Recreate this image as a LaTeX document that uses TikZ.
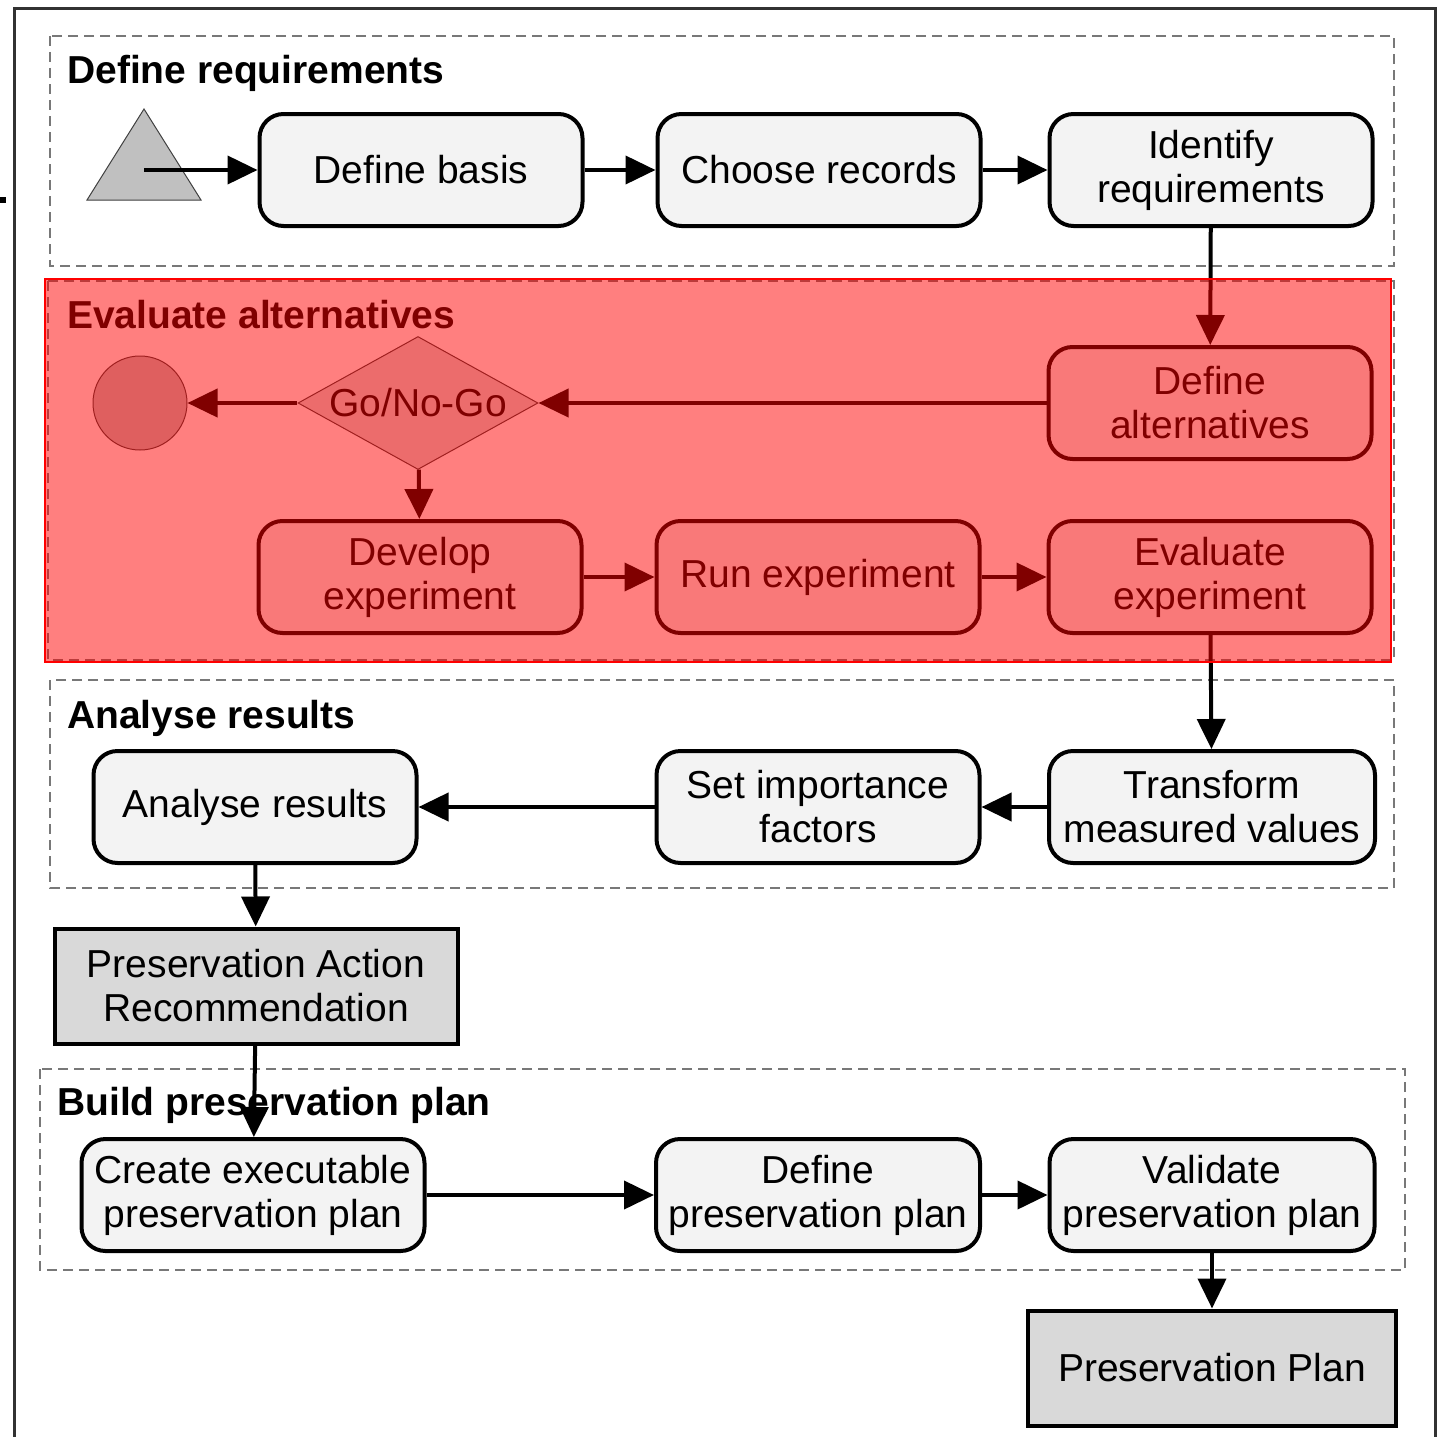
\documentclass[tikz,border=0pt]{standalone}
\usepackage{fontspec}
\setmainfont{Liberation Sans}
\usetikzlibrary{arrows.meta,shapes.geometric}
\definecolor{boxfill}{RGB}{243,243,243}
\definecolor{darkfill}{RGB}{217,217,217}
\definecolor{trifill}{RGB}{192,192,192}
\definecolor{grpline}{RGB}{120,120,120}
\definecolor{frameline}{RGB}{50,50,50}
\begin{document}
\begin{tikzpicture}[x=1pt,y=-1pt,
  every node/.style={font=\fontsize{39}{44}\selectfont, inner sep=0pt},
  act/.style={draw=black, line width=4pt, fill=boxfill, rounded corners=24pt, align=center,
    minimum width=323pt, minimum height=112pt},
  result/.style={draw=black, line width=4pt, fill=darkfill, align=center,
    minimum height=115pt},
  grp/.style={draw=grpline, line width=1.8pt, dash pattern=on 10pt off 6pt},
  grptitle/.style={anchor=base west, font=\fontsize{39}{44}\selectfont\bfseries},
  arr/.style={line width=4pt, -{Triangle[length=30pt,width=28pt]}},
  thin/.style={draw=black!75, line width=1pt}
]
\useasboundingbox (0,0) rectangle (1440,1437);
\begin{scope}
\clip (0,0) rectangle (1440,1437);
\draw[line width=3pt, draw=frameline] (14,9) rectangle (1435,1470);
\end{scope}
\fill (0,197) rectangle (6,203);

% group frames
\draw[grp] (50,36) rectangle (1394,266);
\draw[grp] (48,281) rectangle (1394,660);
\draw[grp] (50,680) rectangle (1394,888);
\draw[grp] (40,1069) rectangle (1405,1270);

\node[grptitle] (t1) at (67,83) {Define requirements};
\node[grptitle] (t2) at (67,328) {Evaluate alternatives};
\node[grptitle] (t3) at (67,728) {Analyse results};
\node[grptitle] (t4) at (57,1115) {Build preservation plan};

% Define requirements
\draw[thin, fill=trifill] (87,200) -- (201,200) -- (144,109) -- cycle;
\coordinate (start) at (144,170);
\node[act] (basis) at (421,170) {Define basis};
\node[act] (records) at (819,170) {Choose records};
\node[act] (identify) at (1211,170) {Identify\\requirements};

% Evaluate alternatives
\node[act] (defalt) at (1210,403) {Define\\alternatives};
\node[thin, shape=diamond, aspect=1.8, fill=darkfill, minimum width=240pt, minimum height=133pt] (gonogo) at (418,403) {Go/No-Go};
\node[thin, circle, fill=trifill, minimum size=94pt] (stop) at (140,403) {};
\node[act] (develop) at (420,577) {Develop\\experiment};
\node[act] (run) at (818,577) {Run experiment};
\node[act] (evalexp) at (1210,577) {Evaluate\\experiment};

% Analyse results
\node[act, minimum width=326pt] (transform) at (1212,807) {Transform\\measured values};
\node[act] (importance) at (818,807) {Set importance\\factors};
\node[act] (analyse) at (255,807) {Analyse results};

\node[result, minimum width=403pt] (par) at (256,986) {Preservation Action\\Recommendation};

% Build preservation plan
\node[act, minimum width=343pt] (create) at (253,1195) {Create executable\\preservation plan};
\node[act, minimum width=324pt] (defplan) at (818,1195) {Define\\preservation plan};
\node[act, minimum width=325pt] (validate) at (1212,1195) {Validate\\preservation plan};

\node[result, minimum width=368pt] (plan) at (1212,1368) {Preservation Plan};

% connectors
\draw[arr] (start) -- (basis);
\draw[arr] (basis) -- (records);
\draw[arr] (records) -- (identify);
\draw[arr] (identify) -- (defalt);
\draw[arr] (defalt) -- (gonogo);
\draw[arr] (gonogo) -- (stop);
\draw[arr] (gonogo) -- (develop);
\draw[arr] (develop) -- (run);
\draw[arr] (run) -- (evalexp);
\draw[arr] (evalexp) -- (transform);
\draw[arr] (transform) -- (importance);
\draw[arr] (importance) -- (analyse);
\draw[arr] (analyse) -- (par);
\draw[arr] (par) -- (create);
\draw[arr] (create) -- (defplan);
\draw[arr] (defplan) -- (validate);
\draw[arr] (validate) -- (plan);

% red highlight overlay
\fill[red, fill opacity=0.5] (45,279) rectangle (1391,662);
\draw[red, line width=1.5pt] (45,279) rectangle (1391,662);
\end{tikzpicture}
\end{document}
